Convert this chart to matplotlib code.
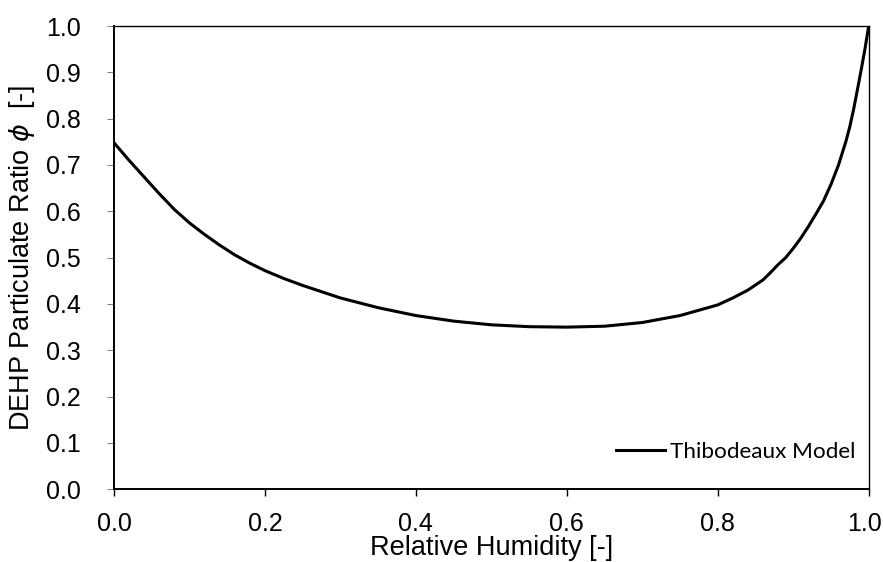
import matplotlib
matplotlib.use("Agg")
import matplotlib.pyplot as plt
import matplotlib.transforms as mtransforms

# values
rh = [0.00, 0.01, 0.02, 0.03, 0.04, 0.06, 0.08, 0.10, 0.12, 0.14, 0.16, 0.18,
      0.20, 0.225, 0.25, 0.30, 0.35, 0.40, 0.45, 0.50, 0.55, 0.60, 0.65, 0.70,
      0.75, 0.80, 0.82, 0.84, 0.86, 0.87, 0.88, 0.89, 0.90, 0.91, 0.92, 0.93,
      0.94, 0.95, 0.96, 0.965, 0.97, 0.975, 0.98, 0.985, 0.99, 0.995, 1.00]
phi = [0.748, 0.729, 0.710, 0.692, 0.674, 0.638, 0.604, 0.575, 0.550, 0.527,
       0.506, 0.488, 0.472, 0.455, 0.440, 0.413, 0.392, 0.375, 0.363, 0.355,
       0.351, 0.350, 0.352, 0.360, 0.375, 0.398, 0.413, 0.430, 0.452, 0.468,
       0.485, 0.500, 0.520, 0.542, 0.567, 0.594, 0.622, 0.658, 0.700, 0.726,
       0.752, 0.783, 0.820, 0.862, 0.905, 0.950, 1.000]

xticks = [0.0, 0.2, 0.4, 0.6, 0.8, 1.0]
yticks = [0.0, 0.1, 0.2, 0.3, 0.4, 0.5, 0.6, 0.7, 0.8, 0.9, 1.0]

plt.rcParams['font.family'] = ['Liberation Sans', 'DejaVu Sans']
plt.rcParams['mathtext.fontset'] = 'dejavusans'

fig = plt.figure(figsize=(8.83, 5.62), dpi=100)
ax = fig.add_axes([0.1291, 0.1294, 0.8547, 0.8243])

ax.plot(rh, phi, color='black', lw=2.2, label='Thibodeaux Model')

ax.set_xlim(0, 1)
ax.set_ylim(0, 1)
ax.set_xticks(xticks)
ax.set_yticks(yticks)
ax.set_xticklabels([f"{v:.1f}" for v in xticks])
ax.set_yticklabels([f"{v:.1f}" for v in yticks])

ax.tick_params(axis='x', direction='out', length=5, width=1.0, pad=11.5, labelsize=18)
ax.tick_params(axis='y', direction='out', length=5, width=0.6, color='#666666', pad=19, labelsize=18)

# keep the last x label inside the picture
last = ax.get_xticklabels()[-1]
last.set_transform(last.get_transform() + mtransforms.ScaledTranslation(-4 / 100, 0, fig.dpi_scale_trans))

for side in ['left', 'bottom']:
    ax.spines[side].set_linewidth(1.4)
for side in ['top', 'right']:
    ax.spines[side].set_linewidth(1.0)

ax.set_xlabel('Relative Humidity [-]', fontsize=19.5, labelpad=-1)
ax.set_ylabel(r'DEHP Particulate Ratio $\phi$  [-]', fontsize=19.5, labelpad=6)

ax.legend(loc='center right', bbox_to_anchor=(0.982, 0.0805), frameon=False,
          borderaxespad=0, borderpad=0, handlelength=2.2, handletextpad=0.2,
          prop={'family': 'Lato', 'size': 16.2})

fig.savefig('out.png', dpi=100)
